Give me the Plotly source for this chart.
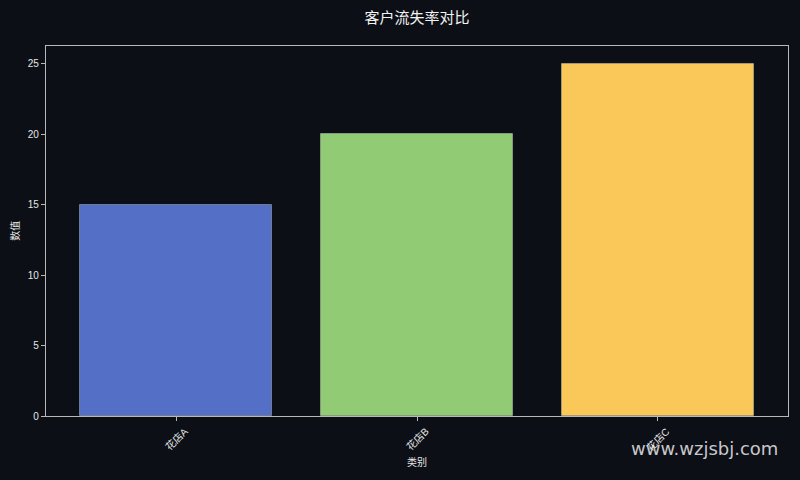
import plotly.graph_objects as go

# chart data
categories = ["花店A", "花店B", "花店C"]
values = [15, 20, 25]
bar_colors = ["#5470c6", "#91cc75", "#fac858"]

title_text = "客户流失率对比"
x_title = "类别"
y_title = "数值"
y_ticks = [0, 5, 10, 15, 20, 25]

BG = "#0c0f16"
FG = "#e6e6e6"
SPINE = "#b8b8b8"
FONT = "Liberation Sans, Noto Sans CJK SC, sans-serif"

fig = go.Figure()
fig.add_trace(
    go.Bar(
        x=list(range(len(categories))),
        y=values,
        width=0.8,
        marker=dict(color=bar_colors, line=dict(color="rgba(255,255,255,0.3)", width=1)),
        hoverinfo="skip",
        showlegend=False,
    )
)

# rotated category labels, centred on the ticks like matplotlib's rotation=45
for i, cat in enumerate(categories):
    fig.add_annotation(
        x=i, y=-0.062, xref="x", yref="paper",
        text=cat, textangle=-45, showarrow=False,
        xanchor="center", yanchor="middle",
        font=dict(family=FONT, size=10, color=FG),
    )

# axis titles
fig.add_annotation(
    x=0.5, y=-0.125, xref="paper", yref="paper",
    text=x_title, showarrow=False, xanchor="center", yanchor="middle",
    font=dict(family=FONT, size=10, color=FG),
)
fig.add_annotation(
    x=-0.042, y=0.5, xref="paper", yref="paper",
    text=y_title, textangle=-90, showarrow=False, xanchor="center", yanchor="middle",
    font=dict(family=FONT, size=10, color=FG),
)

# watermark
fig.add_annotation(
    x=(780 - 46) / 742, y=-0.0865, xref="paper", yref="paper",
    text="www.wzjsbj.com", showarrow=False, xanchor="right", yanchor="middle",
    font=dict(family="DejaVu Sans, sans-serif", size=18, color="rgba(235,235,235,0.85)"),
)

fig.update_layout(
    width=800,
    height=480,
    margin=dict(l=46, r=12, t=46, b=64),
    paper_bgcolor=BG,
    plot_bgcolor=BG,
    font=dict(family=FONT, size=10, color=FG),
    title=dict(
        text=title_text, x=(46 + 788) / 2 / 800, xanchor="center",
        y=1 - 18 / 480, yanchor="middle",
        font=dict(family=FONT, size=15, color="#f2f2f2"),
    ),
    bargap=0,
)

fig.update_xaxes(
    range=[-0.54, 2.54],
    tickvals=list(range(len(categories))),
    showticklabels=False,
    ticks="outside", ticklen=4, tickcolor=SPINE,
    showline=True, linecolor=SPINE, linewidth=1.2, mirror=True,
    showgrid=False, zeroline=False,
)
fig.update_yaxes(
    range=[0, 26.25],
    tickvals=y_ticks,
    ticks="outside", ticklen=4, tickcolor=SPINE,
    tickfont=dict(family=FONT, size=10, color=FG),
    showline=True, linecolor=SPINE, linewidth=1.2, mirror=True,
    showgrid=False, zeroline=False,
)

# drop the page's default body margin so the figure sits at the window corner
fig.write_html(
    "out.html",
    config={"displayModeBar": False},
    post_script="document.body.style.margin='0';",
)
